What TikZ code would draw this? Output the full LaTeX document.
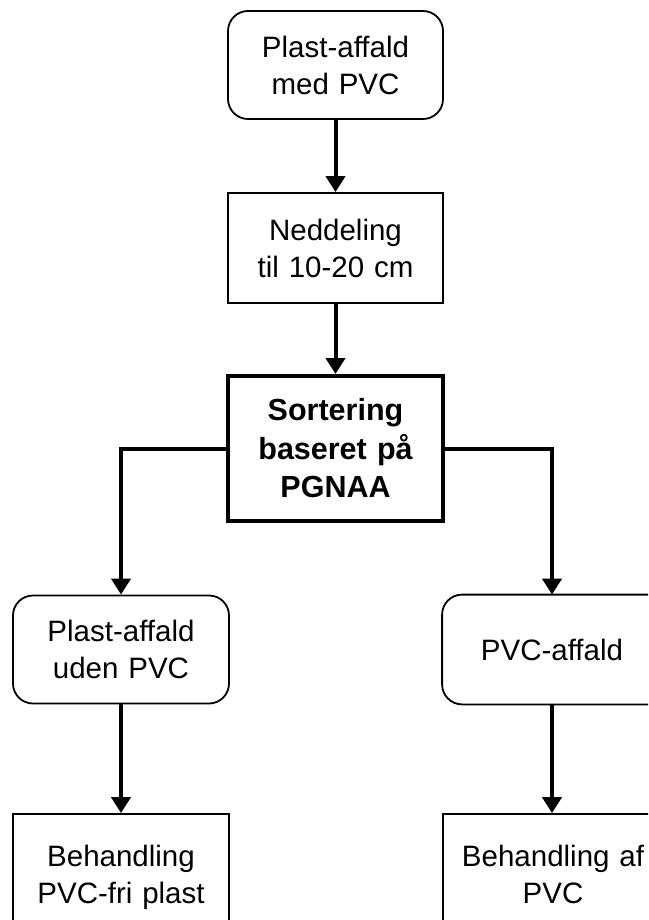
\documentclass[tikz,border=0pt]{standalone}
\usepackage{fontspec}
\setmainfont{Liberation Sans}
\usetikzlibrary{arrows.meta}

\tikzset{
  base/.style={draw=black, line width=1.8pt, inner sep=0pt, align=center,
    font=\fontsize{29.5}{37}\selectfont, minimum width=215pt, text width=212pt},
  roundbox/.style={base, rounded corners=20pt, minimum height=108pt},
  plainbox/.style={base, minimum height=110pt},
  keybox/.style={base, line width=4pt, minimum height=145pt,
    font=\fontsize{30.5}{38.5}\selectfont\bfseries},
  flow/.style={line width=4pt, -{Triangle[length=16pt,width=19pt]}}
}

\begin{document}
\begin{tikzpicture}[x=1pt, y=-1pt]
  \useasboundingbox (0,0) rectangle (648,920);
  \fill[white] (0,0) rectangle (648,920);
  \clip (0,0) rectangle (648,920);

  % main column
  \node[roundbox] (waste)  at (335.5,65)    {Plast-affald\\med PVC};
  \node[plainbox] (shred)  at (335.5,248)   {Neddeling\\til 10-20 cm};
  \node[keybox]   (sort)   at (335.5,448.5) {Sortering\\baseret på\\PGNAA};

  % branches
  \node[roundbox, minimum width=216pt] (clean) at (121,649.5) {Plast-affald\\uden PVC};
  \node[roundbox, minimum width=218pt, draw=none] (pvc) at (552,649.5) {PVC-affald};
  % the PVC box runs on past the right margin
  \draw[line width=1.8pt, rounded corners=20pt]
    (pvc.north west) rectangle ([xshift=40pt]pvc.south east);
  \node[plainbox, minimum width=216pt, minimum height=120pt] (treatA) at (121,874) {Behandling\\\smash{PVC-fri plast}};
  \node[plainbox, minimum width=220pt, minimum height=120pt] (treatB) at (553,874) {Behandling af\\PVC};

  % connectors
  \draw[flow] (waste) -- (shred);
  \draw[flow] (shred) -- (sort);
  \draw[flow] (sort.west) -| (clean.north);
  \draw[flow] (sort.east) -| (pvc.north);
  \draw[flow] (clean) -- (treatA);
  \draw[flow] (pvc.south) -- (pvc.south |- treatB.north);
\end{tikzpicture}
\end{document}
